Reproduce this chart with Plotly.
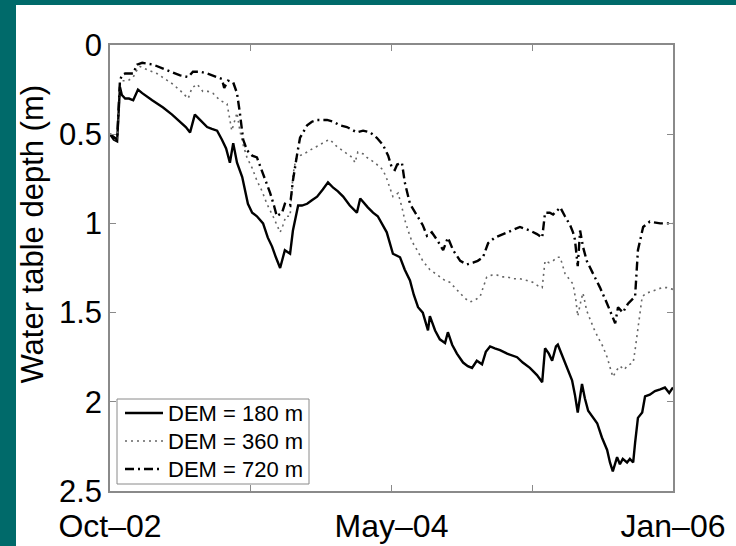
import plotly.graph_objects as go

# Simulated water table depth (m) for three DEM resolutions
dates_180 = [
    "2002-10-01", "2002-10-09", "2002-10-16", "2002-10-22", "2002-10-26", "2002-11-02", "2002-11-10",
    "2002-11-19", "2002-11-29", "2002-12-08", "2002-12-29", "2003-01-21", "2003-02-09", "2003-02-26",
    "2003-03-10", "2003-03-19", "2003-03-29", "2003-04-09", "2003-04-24", "2003-05-04", "2003-05-15",
    "2003-05-25", "2003-06-03", "2003-06-11", "2003-06-18", "2003-06-26", "2003-07-07", "2003-07-19",
    "2003-07-28", "2003-08-07", "2003-08-20", "2003-08-30", "2003-09-08", "2003-09-16", "2003-09-25",
    "2003-10-05", "2003-10-16", "2003-10-22", "2003-11-02", "2003-11-10", "2003-11-21", "2003-12-01",
    "2003-12-12", "2003-12-24", "2004-01-04", "2004-01-15", "2004-01-25", "2004-02-05", "2004-02-19",
    "2004-03-05", "2004-03-12", "2004-03-28", "2004-04-08", "2004-04-18", "2004-04-29", "2004-05-07",
    "2004-05-20", "2004-05-29", "2004-06-04", "2004-06-14", "2004-06-25", "2004-07-03", "2004-07-12",
    "2004-07-22", "2004-08-02", "2004-08-06", "2004-08-17", "2004-08-27", "2004-09-07", "2004-09-13",
    "2004-09-22", "2004-10-02", "2004-10-15", "2004-10-25", "2004-11-03", "2004-11-13", "2004-11-24",
    "2004-12-02", "2004-12-11", "2004-12-21", "2005-01-01", "2005-01-16", "2005-01-26", "2005-02-06",
    "2005-02-18", "2005-03-05", "2005-03-20", "2005-03-31", "2005-04-06", "2005-04-14", "2005-04-21",
    "2005-04-29", "2005-05-03", "2005-05-14", "2005-05-22", "2005-06-02", "2005-06-08", "2005-06-14",
    "2005-06-23", "2005-06-29", "2005-07-06", "2005-07-16", "2005-07-25", "2005-08-04", "2005-08-15",
    "2005-08-21", "2005-08-27", "2005-09-05", "2005-09-11", "2005-09-17", "2005-09-26", "2005-10-02",
    "2005-10-09", "2005-10-13", "2005-10-19", "2005-10-28", "2005-11-03", "2005-11-13", "2005-11-24",
    "2005-12-05", "2005-12-15", "2005-12-24", "2006-01-01",
]
depth_180 = [
    0.50, 0.53, 0.54, 0.235, 0.28, 0.30, 0.30,
    0.31, 0.25, 0.27, 0.31, 0.35, 0.39, 0.43,
    0.46, 0.49, 0.39, 0.42, 0.46, 0.47, 0.48,
    0.53, 0.58, 0.66, 0.55, 0.66, 0.74, 0.89,
    0.94, 0.96, 1.00, 1.08, 1.13, 1.19, 1.25,
    1.15, 1.17, 1.04, 0.90, 0.90, 0.89, 0.87,
    0.85, 0.81, 0.77, 0.80, 0.82, 0.85, 0.90,
    0.94, 0.86, 0.91, 0.94, 0.96, 1.01, 1.05,
    1.17, 1.18, 1.19, 1.26, 1.32, 1.40, 1.47,
    1.50, 1.60, 1.52, 1.60, 1.65, 1.67, 1.61,
    1.68, 1.73, 1.78, 1.80, 1.81, 1.77, 1.79,
    1.72, 1.69, 1.70, 1.71, 1.73, 1.74, 1.75,
    1.78, 1.81, 1.85, 1.89, 1.70, 1.73, 1.77,
    1.69, 1.68, 1.75, 1.80, 1.88, 1.96, 2.06,
    1.90, 1.98, 2.05, 2.09, 2.12, 2.20, 2.27,
    2.34, 2.39, 2.31, 2.35, 2.32, 2.34, 2.32,
    2.34, 2.23, 2.09, 2.06, 1.97, 1.96, 1.94,
    1.93, 1.92, 1.95, 1.92,
]

dates_360 = [
    "2002-10-01", "2002-10-16", "2002-10-22", "2002-10-26", "2002-11-08", "2002-11-19", "2002-11-27",
    "2002-12-03", "2002-12-20", "2003-01-08", "2003-01-25", "2003-02-11", "2003-02-28", "2003-03-15",
    "2003-03-23", "2003-04-03", "2003-04-15", "2003-04-26", "2003-05-06", "2003-05-21", "2003-06-05",
    "2003-06-11", "2003-06-15", "2003-06-26", "2003-07-02", "2003-07-09", "2003-07-17", "2003-07-28",
    "2003-08-07", "2003-08-18", "2003-08-28", "2003-09-10", "2003-09-18", "2003-09-25", "2003-10-01",
    "2003-10-07", "2003-10-16", "2003-10-22", "2003-10-28", "2003-11-06", "2003-11-21", "2003-12-03",
    "2003-12-18", "2003-12-29", "2004-01-08", "2004-01-23", "2004-02-03", "2004-02-13", "2004-02-24",
    "2004-03-01", "2004-03-07", "2004-03-18", "2004-03-26", "2004-04-12", "2004-04-29", "2004-05-07",
    "2004-05-14", "2004-05-20", "2004-05-26", "2004-05-31", "2004-06-08", "2004-06-14", "2004-06-21",
    "2004-06-29", "2004-07-10", "2004-07-22", "2004-07-31", "2004-08-06", "2004-08-17", "2004-08-27",
    "2004-09-07", "2004-09-17", "2004-09-28", "2004-10-09", "2004-10-19", "2004-10-30", "2004-11-09",
    "2004-11-20", "2004-11-28", "2004-12-04", "2004-12-15", "2004-12-26", "2005-01-05", "2005-01-16",
    "2005-01-28", "2005-02-12", "2005-02-27", "2005-03-11", "2005-03-22", "2005-03-31", "2005-04-06",
    "2005-04-14", "2005-04-23", "2005-05-01", "2005-05-08", "2005-05-18", "2005-05-29", "2005-06-04",
    "2005-06-10", "2005-06-14", "2005-06-21", "2005-06-25", "2005-07-03", "2005-07-10", "2005-07-18",
    "2005-07-27", "2005-08-06", "2005-08-15", "2005-08-21", "2005-08-27", "2005-09-05", "2005-09-11",
    "2005-09-20", "2005-09-26", "2005-10-02", "2005-10-09", "2005-10-13", "2005-10-17", "2005-10-23",
    "2005-10-28", "2005-11-07", "2005-11-18", "2005-11-28", "2005-12-09", "2005-12-19", "2006-01-01",
]
depth_360 = [
    0.50, 0.54, 0.22, 0.20, 0.20, 0.18, 0.14,
    0.12, 0.14, 0.16, 0.19, 0.22, 0.26, 0.30,
    0.24, 0.22, 0.26, 0.26, 0.27, 0.31, 0.33,
    0.41, 0.48, 0.38, 0.48, 0.56, 0.63, 0.69,
    0.76, 0.82, 0.89, 0.96, 1.01, 1.05, 1.01,
    0.96, 0.96, 0.73, 0.64, 0.62, 0.60, 0.58,
    0.56, 0.54, 0.53, 0.57, 0.59, 0.61, 0.63,
    0.66, 0.60, 0.61, 0.63, 0.66, 0.70, 0.75,
    0.80, 0.85, 0.84, 0.83, 0.91, 0.98, 1.04,
    1.10, 1.15, 1.21, 1.24, 1.26, 1.28, 1.30,
    1.32, 1.33, 1.36, 1.39, 1.42, 1.44, 1.43,
    1.41, 1.35, 1.30, 1.29, 1.29, 1.30, 1.30,
    1.31, 1.31, 1.32, 1.33, 1.35, 1.36, 1.21,
    1.22, 1.21, 1.19, 1.19, 1.28, 1.32, 1.34,
    1.43, 1.52, 1.43, 1.39, 1.49, 1.54, 1.59,
    1.64, 1.69, 1.75, 1.80, 1.86, 1.82, 1.80,
    1.82, 1.80, 1.79, 1.78, 1.71, 1.64, 1.51,
    1.41, 1.39, 1.38, 1.37, 1.36, 1.36, 1.37,
]

dates_720 = [
    "2002-10-01", "2002-10-16", "2002-10-22", "2002-10-26", "2002-11-02", "2002-11-19", "2002-11-27",
    "2002-12-08", "2002-12-31", "2003-01-29", "2003-02-26", "2003-03-15", "2003-03-25", "2003-04-09",
    "2003-04-24", "2003-05-15", "2003-05-25", "2003-05-30", "2003-06-07", "2003-06-18", "2003-06-26",
    "2003-07-02", "2003-07-09", "2003-07-17", "2003-07-28", "2003-08-07", "2003-08-20", "2003-09-04",
    "2003-09-12", "2003-09-18", "2003-09-29", "2003-10-05", "2003-10-16", "2003-10-22", "2003-10-31",
    "2003-11-06", "2003-11-21", "2003-12-01", "2003-12-12", "2004-01-02", "2004-01-15", "2004-01-29",
    "2004-02-13", "2004-03-05", "2004-03-18", "2004-04-02", "2004-04-16", "2004-04-29", "2004-05-10",
    "2004-05-18", "2004-05-24", "2004-05-29", "2004-06-08", "2004-06-14", "2004-06-25", "2004-07-10",
    "2004-07-22", "2004-07-31", "2004-08-10", "2004-08-23", "2004-09-03", "2004-09-13", "2004-09-24",
    "2004-10-09", "2004-10-23", "2004-11-05", "2004-11-15", "2004-11-26", "2004-12-07", "2004-12-21",
    "2005-01-16", "2005-01-28", "2005-02-12", "2005-03-05", "2005-03-20", "2005-03-31", "2005-04-06",
    "2005-04-16", "2005-04-23", "2005-05-01", "2005-05-08", "2005-05-18", "2005-05-29", "2005-06-04",
    "2005-06-08", "2005-06-14", "2005-06-19", "2005-06-25", "2005-07-03", "2005-07-16", "2005-07-31",
    "2005-08-15", "2005-08-25", "2005-09-01", "2005-09-07", "2005-09-17", "2005-09-28", "2005-10-06",
    "2005-10-13", "2005-10-19", "2005-10-30", "2005-11-13", "2005-12-05", "2006-01-01",
]
depth_720 = [
    0.50, 0.53, 0.20, 0.17, 0.16, 0.16, 0.11,
    0.10, 0.11, 0.14, 0.17, 0.18, 0.15, 0.15,
    0.16, 0.18, 0.19, 0.24, 0.20, 0.21, 0.27,
    0.38, 0.53, 0.59, 0.62, 0.63, 0.72, 0.83,
    0.90, 0.96, 0.94, 0.89, 0.90, 0.76, 0.61,
    0.52, 0.45, 0.43, 0.42, 0.42, 0.43, 0.45,
    0.46, 0.49, 0.48, 0.49, 0.52, 0.56, 0.62,
    0.69, 0.70, 0.67, 0.66, 0.77, 0.89, 0.96,
    1.01, 1.07, 1.05, 1.10, 1.15, 1.08, 1.15,
    1.21, 1.23, 1.22, 1.21, 1.19, 1.11, 1.08,
    1.05, 1.04, 1.02, 1.04, 1.06, 1.08, 0.94,
    0.94, 0.95, 0.93, 0.91, 0.96, 1.01, 1.05,
    1.09, 1.24, 1.04, 1.13, 1.21, 1.28, 1.36,
    1.45, 1.52, 1.56, 1.47, 1.50, 1.45, 1.43,
    1.41, 1.15, 1.02, 0.99, 1.00, 1.00,
]

series_names = ["DEM = 180 m", "DEM = 360 m", "DEM = 720 m"]
y_title = "Water table depth (m)"

x_range = ["2002-10-01", "2006-01-01"]
x_tickvals = ["2002-10-01", "2003-07-25", "2004-05-17", "2005-03-10", "2006-01-01"]
x_ticktext = ["Oct\u201302", "", "May\u201304", "", "Jan\u201306"]
y_tickvals = [0, 0.5, 1, 1.5, 2, 2.5]
y_ticktext = ["0", "0.5", "1", "1.5", "2", "2.5"]

FONT = "Liberation Sans, Arial, Helvetica, sans-serif"
TEAL = "#006a6a"
AXIS_GRAY = "#8a8a8a"

# figure geometry (pixels) used to place the legend box in paper units
W, H = 736, 546
ML, MR, MT, MB = 110, 63, 45, 55
PW, PH = W - ML - MR, H - MT - MB


def px_x(x):
    return (x - ML) / PW


def px_y(y):
    return (H - MB - y) / PH


line_styles = [
    dict(color="black", width=2.4, dash="solid"),
    dict(color="#666666", width=1.6, dash="2px,4px"),
    dict(color="black", width=2.4, dash="9px,4px,2px,4px"),
]

fig = go.Figure()
for xs, ys, name, style in zip(
    [dates_180, dates_360, dates_720],
    [depth_180, depth_360, depth_720],
    series_names, line_styles,
):
    fig.add_trace(go.Scatter(x=xs, y=ys, mode="lines", name=name, line=style))

# white figure panel on the teal frame
fig.add_shape(
    type="rect", xref="paper", yref="paper",
    x0=px_x(16), x1=px_x(760), y0=px_y(600), y1=px_y(5),
    fillcolor="white", line=dict(width=0), layer="below",
)

# legend box with line samples and labels
fig.add_shape(
    type="rect", xref="paper", yref="paper",
    x0=px_x(117), x1=px_x(309), y0=px_y(484), y1=px_y(399),
    fillcolor="white", line=dict(color=AXIS_GRAY, width=1), layer="above",
)
for row_y, name, style in zip([413, 441, 469], series_names, line_styles):
    fig.add_shape(
        type="line", xref="paper", yref="paper",
        x0=px_x(125), x1=px_x(163), y0=px_y(row_y), y1=px_y(row_y),
        line=style, layer="above",
    )
    fig.add_annotation(
        text=name, xref="paper", yref="paper",
        x=px_x(166), y=px_y(row_y), xanchor="left", yanchor="middle",
        showarrow=False, font=dict(family=FONT, size=22, color="black"),
    )

# y-axis title, placed as free text so it can sit slightly above the axis centre
fig.add_annotation(
    text=y_title, xref="paper", yref="paper",
    x=px_x(33), y=0.575, xanchor="center", yanchor="middle",
    textangle=-90, showarrow=False,
    font=dict(family=FONT, size=31, color="black"),
)

fig.update_layout(
    width=W, height=H,
    margin=dict(l=ML, r=MR, t=MT, b=MB, autoexpand=False),
    paper_bgcolor=TEAL,
    plot_bgcolor="white",
    font=dict(family=FONT, size=31, color="black"),
    showlegend=False,
    xaxis=dict(
        type="date", range=x_range, automargin=False,
        tickmode="array", tickvals=x_tickvals, ticktext=x_ticktext,
        ticks="inside", ticklen=6, tickcolor=AXIS_GRAY, tickwidth=1,
        showline=True, linecolor=AXIS_GRAY, linewidth=1.5, mirror="ticks",
        showgrid=False, zeroline=False, ticklabelstandoff=6,
        tickfont=dict(family=FONT, size=32, color="black"),
    ),
    yaxis=dict(
        range=[2.5, 0], automargin=False,
        tickmode="array", tickvals=y_tickvals, ticktext=y_ticktext,
        ticks="inside", ticklen=6, tickcolor=AXIS_GRAY, tickwidth=1,
        showline=True, linecolor=AXIS_GRAY, linewidth=1.5, mirror="ticks",
        showgrid=False, zeroline=False,
        tickfont=dict(family=FONT, size=31, color="black"),
    ),
)

fig.write_html("out.html")
